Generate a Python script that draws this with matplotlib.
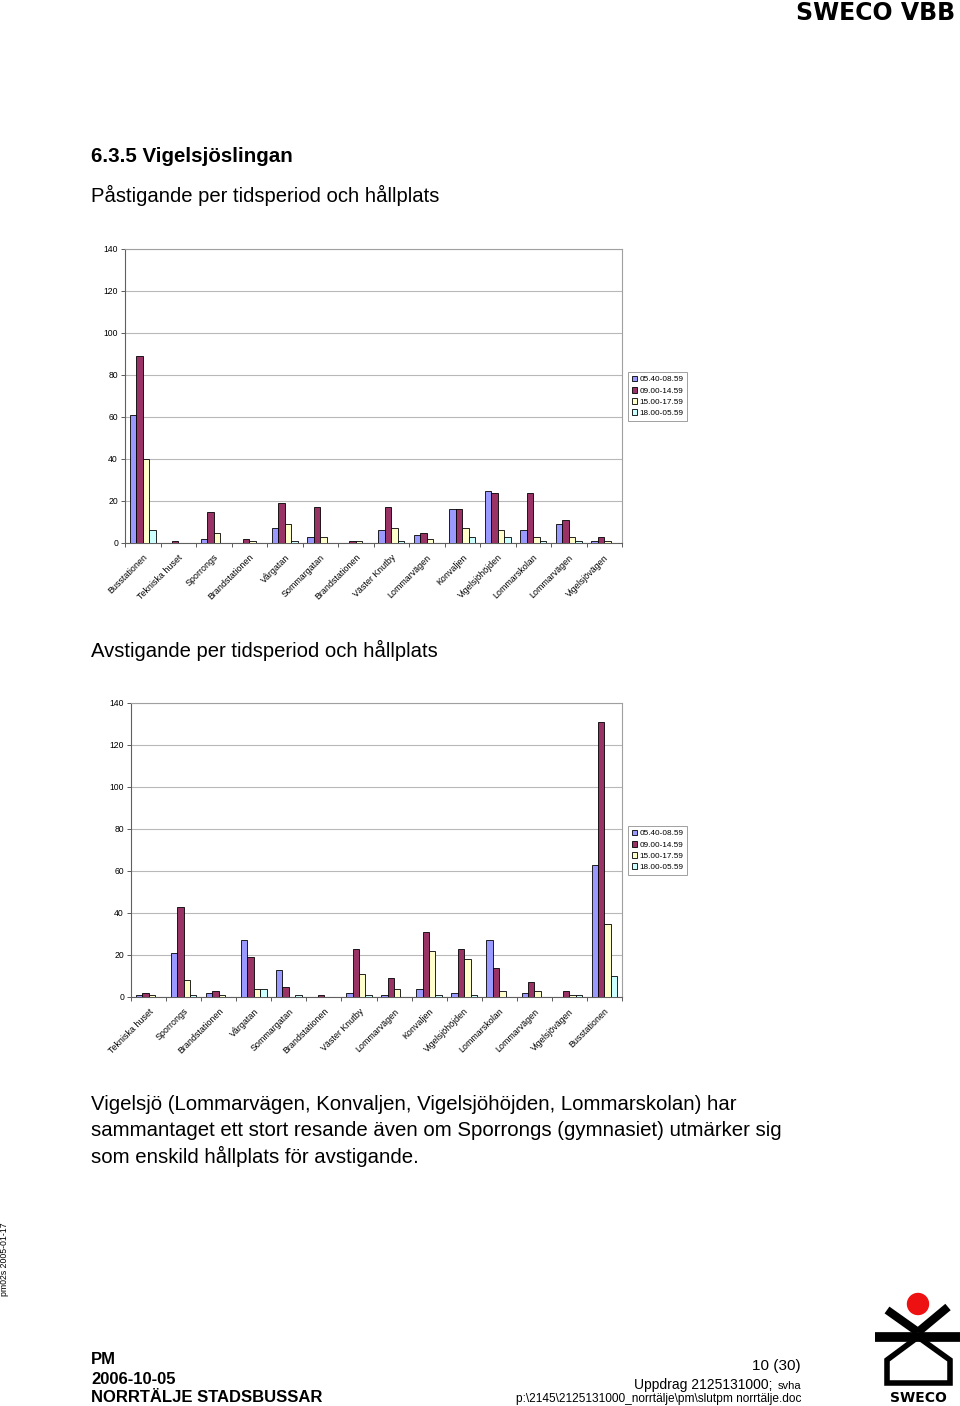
import matplotlib
matplotlib.use('Agg')
import matplotlib.pyplot as plt
import numpy as np
from matplotlib.patches import Circle

plt.rcParams['font.family'] = ['Liberation Sans', 'DejaVu Sans']

periods = ['05.40-08.59', '09.00-14.59', '15.00-17.59', '18.00-05.59']
colors = ['#9999FF', '#993366', '#FFFFCC', '#CCFFFF']

# Påstigande
stops_on = ['Busstationen', 'Tekniska huset', 'Sporrongs', 'Brandstationen', 'Vårgatan',
            'Sommargatan', 'Brandstationen', 'Väster Knutby', 'Lommarvägen', 'Konvaljen',
            'Vigelsjöhöjden', 'Lommarskolan', 'Lommarvägen', 'Vigelsjövägen']
on_0540 = [61, 0, 2, 0, 7, 3, 0, 6, 4, 16, 25, 6, 9, 1]
on_0900 = [89, 1, 15, 2, 19, 17, 1, 17, 5, 16, 24, 24, 11, 3]
on_1500 = [40, 0, 5, 1, 9, 3, 1, 7, 2, 7, 6, 3, 3, 1]
on_1800 = [6, 0, 0, 0, 1, 0, 0, 1, 0, 3, 3, 1, 1, 0]

# Avstigande
stops_off = ['Tekniska huset', 'Sporrongs', 'Brandstationen', 'Vårgatan', 'Sommargatan',
             'Brandstationen', 'Väster Knutby', 'Lommarvägen', 'Konvaljen', 'Vigelsjöhöjden',
             'Lommarskolan', 'Lommarvägen', 'Vigelsjövägen', 'Busstationen']
off_0540 = [1, 21, 2, 27, 13, 0, 2, 1, 4, 2, 27, 2, 0, 63]
off_0900 = [2, 43, 3, 19, 5, 1, 23, 9, 31, 23, 14, 7, 3, 131]
off_1500 = [1, 8, 1, 4, 0, 0, 11, 4, 22, 18, 3, 3, 1, 35]
off_1800 = [0, 1, 0, 4, 1, 0, 1, 0, 1, 1, 0, 0, 1, 10]

yticks = [0, 20, 40, 60, 80, 100, 120, 140]

W, H = 960, 1406
fig = plt.figure(figsize=(W / 100, H / 100), dpi=100)


def px_axes(x0, y0, x1, y1):
    return fig.add_axes([x0 / W, 1 - y1 / H, (x1 - x0) / W, (y1 - y0) / H])


def fy(y):
    return 1 - y / H


def draw_chart(ax, cats, series, leg_xy):
    n = len(cats)
    x = np.arange(n)
    w = 1 / 5.5
    for i, vals in enumerate(series):
        ax.bar(x + (i - 1.5) * w, vals, w, color=colors[i], edgecolor='black',
               linewidth=0.6, zorder=3, label=periods[i])
    ax.set_xlim(-0.5, n - 0.5)
    ax.set_ylim(0, 140)
    ax.set_yticks(yticks)
    ax.set_yticklabels([str(t) for t in yticks], fontsize=6.2)
    ax.tick_params(axis='y', length=3, width=0.6, pad=2, color='#404040')
    ax.set_xticks(x)
    ax.set_xticklabels(cats, rotation=45, ha='right', va='top', rotation_mode='anchor',
                       fontsize=6.4)
    ax.tick_params(axis='x', which='major', length=0, pad=7)
    ax.set_xticks(np.arange(n + 1) - 0.5, minor=True)
    ax.tick_params(axis='x', which='minor', length=3, width=0.6, color='#404040')
    ax.grid(axis='y', color='#b8b8b8', linewidth=0.8, zorder=0)
    ax.set_axisbelow(True)
    for s in ['top', 'right']:
        ax.spines[s].set_color('#a0a0a0')
        ax.spines[s].set_linewidth(0.8)
    for s in ['left', 'bottom']:
        ax.spines[s].set_color('#606060')
        ax.spines[s].set_linewidth(0.8)
    leg = ax.legend(loc='upper left', bbox_to_anchor=(leg_xy[0] / W, fy(leg_xy[1])),
                    bbox_transform=fig.transFigure, fontsize=5.9, handlelength=0.7,
                    handleheight=0.7, borderpad=0.45, labelspacing=0.42,
                    handletextpad=0.25, borderaxespad=0, frameon=True, fancybox=False,
                    edgecolor='#909090', framealpha=1)
    leg.get_frame().set_linewidth(0.6)


ax1 = px_axes(125, 249, 622, 543)
draw_chart(ax1, stops_on, [on_0540, on_0900, on_1500, on_1800], (628, 372))

ax2 = px_axes(131, 703, 622, 997)
draw_chart(ax2, stops_off, [off_0540, off_0900, off_1500, off_1800], (628, 826))

# Texts
fig.text(91 / W, fy(156), '6.3.5 Vigelsjöslingan', fontsize=14.8, weight='bold', va='center')
fig.text(91 / W, fy(195), 'Påstigande per tidsperiod och hållplats', fontsize=14.6, va='center')
fig.text(91 / W, fy(650), 'Avstigande per tidsperiod och hållplats', fontsize=14.6, va='center')
para = ['Vigelsjö (Lommarvägen, Konvaljen, Vigelsjöhöjden, Lommarskolan) har',
        'sammantaget ett stort resande även om Sporrongs (gymnasiet) utmärker sig',
        'som enskild hållplats för avstigande.']
for i, line in enumerate(para):
    fig.text(91 / W, fy(1104 + 26 * i), line, fontsize=14.7, va='center')

# Header logo
fig.text(955 / W, fy(13), 'SWECO VBB', fontsize=17, weight='bold', ha='right', va='center',
         family=['DejaVu Sans'])

# Side label
fig.text(5 / W, fy(1259), 'pm02s 2005-01-17', fontsize=6.3, rotation=90, ha='center', va='center')

# Footer
fig.text(91 / W, fy(1360), 'PM', fontsize=12, weight='bold', va='center')
fig.text(91 / W, fy(1379), '2006-10-05', fontsize=12, weight='bold', va='center')
fig.text(91 / W, fy(1397), 'NORRTÄLJE STADSBUSSAR', fontsize=12, weight='bold', va='center')
fig.text(801 / W, fy(1366), '10 (30)', fontsize=11, ha='right', va='center')
fig.text(772 / W, fy(1385), 'Uppdrag 2125131000;', fontsize=10, ha='right', va='center')
fig.text(801 / W, fy(1386), 'svha', fontsize=8, ha='right', va='center')
fig.text(801 / W, fy(1399), 'p:\\2145\\2125131000_norrtälje\\pm\\slutpm norrtälje.doc',
         fontsize=8.6, ha='right', va='center')

# Bottom-right logo drawn in pixel coords
ov = fig.add_axes([0, 0, 1, 1], zorder=-1)
ov.set_xlim(0, W)
ov.set_ylim(H, 0)
ov.axis('off')
ov.add_patch(Circle((918, 1304), 10.5, color='#ee1111'))
ov.plot([887, 918], [1310, 1332], color='black', lw=6, solid_capstyle='butt')
ov.plot([948, 918], [1307, 1332], color='black', lw=6, solid_capstyle='butt')
ov.plot([875, 960], [1337, 1337], color='black', lw=7, solid_capstyle='butt')
ov.plot([918, 887, 887, 950, 950, 918], [1337, 1360, 1383, 1383, 1360, 1337],
        color='black', lw=4, solid_joinstyle='miter')
ov.text(918, 1398, 'SWECO', fontsize=10, weight='bold', ha='center', va='center',
        family=['DejaVu Sans'])

fig.savefig('out.png', dpi=100)
